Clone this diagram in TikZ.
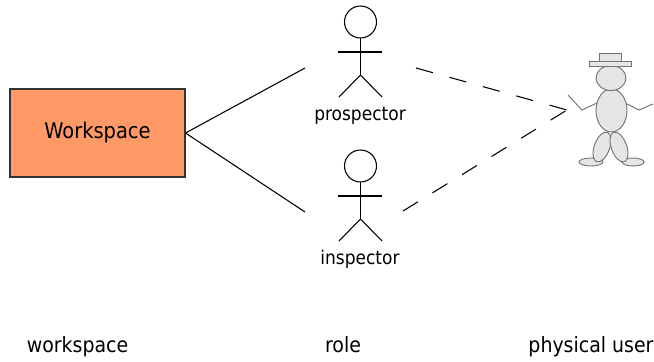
\documentclass[tikz,border=0pt]{standalone}
\usepackage{fontspec}
\setmainfont{DejaVu Sans Condensed}
\begin{document}
\begin{tikzpicture}[x=0.75pt,y=-0.75pt,
  link/.style={line width=0.8pt,draw=black},
  dashlink/.style={line width=0.8pt,draw=black,dash pattern=on 13.1pt off 12.9pt},
  stick/.style={line width=0.8pt,draw=black},
  dollline/.style={line width=0.7pt,draw=black!55},
  doll/.style={dollline,fill=black!10},
  boxlabel/.style={font=\fontsize{16.2pt}{19pt}\selectfont},
  rolelabel/.style={font=\fontsize{14.2pt}{17pt}\selectfont,anchor=base},
  columnlabel/.style={font=\fontsize{15.8pt}{19pt}\selectfont,anchor=base}]
\useasboundingbox (0,0) rectangle (654,361);

% workspace box
\node[draw=black!80,line width=0.8pt,fill={rgb,255:red,255;green,153;blue,102},
      minimum width=131.25pt,minimum height=66pt,inner sep=0pt,boxlabel]
      (ws) at (97.5,133) {Workspace};

% stick-figure roles
\foreach \nm/\yy in {pros/0,insp/144}{
  \begin{scope}[yshift=-0.75*\yy pt]
    \draw[stick] (360.5,22) circle [radius=16];
    \draw[stick] (360.5,38) -- (360.5,75);
    \draw[stick] (338,52) -- (382,52);
    \draw[stick] (339,97) -- (360.5,75) -- (382,97);
  \end{scope}
}
\node[rolelabel] (pros-label) at (360,120) {prospector};
\node[rolelabel] (insp-label) at (360,264) {inspector};

\coordinate (pros-w) at (305,68);
\coordinate (pros-e) at (416,68);
\coordinate (insp-w) at (305,212);
\coordinate (insp-e) at (403,211);

% physical user
\draw[dollline] (568,95) -- (582,110) -- (597,103);
\draw[dollline] (625,103) -- (639,110) -- (653,104);
\draw[doll] (591,162) ellipse [x radius=12,y radius=4];
\draw[doll] (633,162) ellipse [x radius=11,y radius=4];
\draw[doll,rotate around={-20:(602,147)}] (602,147) ellipse [x radius=7.7,y radius=15.7];
\draw[doll,rotate around={20:(619,147)}] (619,147) ellipse [x radius=7.7,y radius=15.7];
\draw[doll] (611.5,110.5) ellipse [x radius=15.5,y radius=21.5];
\draw[doll] (611,78) ellipse [x radius=15,y radius=12.5];
\draw[doll] (599,53) rectangle (621,61);
\draw[doll] (589,61) rectangle (631,66);
\coordinate (user-hand) at (567,110);

% connectors
\draw[link] (ws.east) -- (pros-w);
\draw[link] (ws.east) -- (insp-w);
\draw[dashlink] (pros-e) -- (user-hand);
\draw[dashlink] (insp-e) -- (user-hand);

% column captions
\node[columnlabel] (cap-ws) at (77.5,352) {workspace};
\node[columnlabel] (cap-role) at (343,352) {role};
\node[columnlabel] (cap-user) at (591,352) {physical user};
\end{tikzpicture}
\end{document}
